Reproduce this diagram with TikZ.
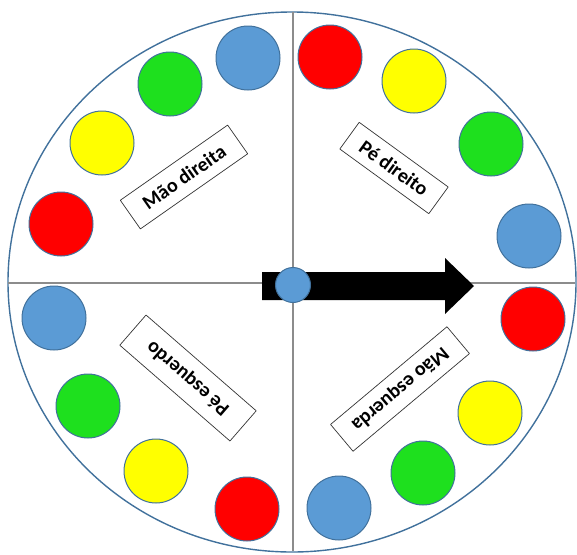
\documentclass[tikz,border=0pt]{standalone}
\usepackage{fontspec}
\setmainfont{Carlito}
\usetikzlibrary{arrows.meta, calc, positioning}
\definecolor{tw-red}{HTML}{FF0000}
\definecolor{tw-yellow}{HTML}{FFFF00}
\definecolor{tw-green}{HTML}{1EE01E}
\definecolor{tw-blue}{HTML}{5B9BD5}
\definecolor{tw-rim}{HTML}{41719C}
\definecolor{tw-axis}{HTML}{8C8C8C}

\begin{document}
\begin{tikzpicture}[x=1pt, y=-1pt, line join=round,
    spot/.style={circle, draw=tw-rim, line width=1pt, minimum size=64pt, inner sep=0pt},
    tag/.style={draw=black!80, line width=0.7pt, fill=white, minimum height=35pt,
      inner sep=0pt, font=\fontsize{20}{23}\selectfont\bfseries}]
  \useasboundingbox (0,0) rectangle (577,554);
  \draw[tw-rim, line width=1.4pt] (292,282) ellipse [x radius=284pt, y radius=270pt];
  \draw[tw-axis, line width=1.2pt] (293,12) -- (293,551);
  \draw[tw-axis, line width=1.2pt] (8,283) -- (575,283);
  \foreach \name/\col/\px/\py in {
      tl1/tw-blue/248/58, tl2/tw-green/170/84, tl3/tw-yellow/102/143, tl4/tw-red/61/224,
      tr1/tw-red/330/57, tr2/tw-yellow/414/81, tr3/tw-green/491/144, tr4/tw-blue/529/236,
      br1/tw-red/533/319, br2/tw-yellow/490/413, br3/tw-green/423/473, br4/tw-blue/339/508,
      bl1/tw-blue/54/318, bl2/tw-green/88/406, bl3/tw-yellow/156/471, bl4/tw-red/247/509}
    \node[spot, fill=\col] (\name) at (\px,\py) {};
  \node[tag, minimum width=131pt, rotate=35] (maodir) at (184,177) {Mão direita};
  \node[tag, minimum width=110pt, minimum height=33pt, rotate=-36] (pedir) at (394,168) {Pé direito};
  \node[tag, minimum width=146pt, minimum height=40pt, rotate=139] (peesq) at (188,378) {Pé esquerdo};
  \node[tag, minimum width=152pt, rotate=220] (maoesq) at (400,389) {Mão esquerda};
  \fill (262,272) -- (445,272) -- (445,258) -- (474,286) -- (445,314) -- (445,300) -- (262,300) -- cycle;
  \node[spot, fill=tw-blue, minimum size=35pt] (hub) at (293,285) {};
\end{tikzpicture}
\end{document}
